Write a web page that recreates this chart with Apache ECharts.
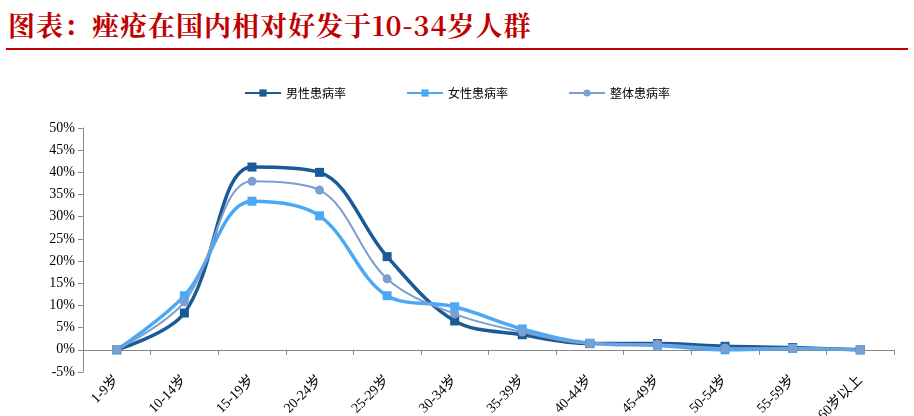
<!DOCTYPE html>
<html><head><meta charset="utf-8">
<script src="https://cdn.jsdelivr.net/npm/echarts@6/dist/echarts.min.js"></script>
<style>body{margin:0;background:#fff}#t{position:absolute;left:8px;top:5px;font:bold 27px "Noto Serif CJK SC","Noto Sans CJK SC",serif;color:#c00000;letter-spacing:1px}
#l{position:absolute;left:6px;top:48px;width:902px;height:2px;background:#c00000}#c{width:914px;height:416px}</style>
</head><body>
<div id="t">图表：痤疮在国内相对好发于10-34岁人群</div><div id="l"></div>
<div id="c"></div>
<script>
const categories = ['1-9岁','10-14岁','15-19岁','20-24岁','25-29岁','30-34岁','35-39岁','40-44岁','45-49岁','50-54岁','55-59岁','60岁以上'];
const maleRate = [0, 8.3, 41.2, 40.0, 21.0, 6.5, 3.4, 1.4, 1.4, 0.8, 0.5, 0];
const femaleRate = [0, 12.2, 33.5, 30.2, 12.2, 9.7, 4.7, 1.5, 1.0, 0, 0.3, 0];
const totalRate = [0, 10.8, 38.0, 36.0, 16.0, 8.1, 4.0, 1.4, 1.2, 0.4, 0.3, 0];

const chart = echarts.init(document.getElementById('c'));
const mk = (name, data, color, symbol, w) => ({
  name, type: 'line', data, smooth: 0.35, symbol, symbolSize: 9,
  lineStyle: { color, width: w }, itemStyle: { color }
});
chart.setOption({
  animation: false,
  textStyle: { fontFamily: 'Liberation Serif, Noto Sans CJK SC' },
  legend: {
    top: 82, left: 'center', itemGap: 60, itemWidth: 36, itemHeight: 9,
    textStyle: { fontSize: 12, color: '#000', fontFamily: 'Noto Sans CJK SC' },
    data: ['男性患病率', '女性患病率', '整体患病率']
  },
  grid: { left: 83, right: 20, top: 128, bottom: 44, outerBoundsMode: 'none', containLabel: false },
  xAxis: {
    type: 'category', data: categories,
    axisLine: { onZero: true, lineStyle: { color: '#888' } },
    axisTick: { show: true, lineStyle: { color: '#888' } },
    axisLabel: { rotate: 45, color: '#000', fontSize: 14, interval: 0, margin: 6 }
  },
  yAxis: {
    type: 'value', min: -5, max: 50, interval: 5,
    axisLine: { show: true, lineStyle: { color: '#888' } },
    axisTick: { show: true },
    splitLine: { show: false },
    axisLabel: { formatter: '{value}%', color: '#000', fontSize: 14 }
  },
  series: [
    mk('男性患病率', maleRate, '#1a5a96', 'rect', 3.5),
    mk('女性患病率', femaleRate, '#4aa8f5', 'rect', 3.5),
    mk('整体患病率', totalRate, '#7b9fcf', 'circle', 2)
  ]
});
</script></body></html>
